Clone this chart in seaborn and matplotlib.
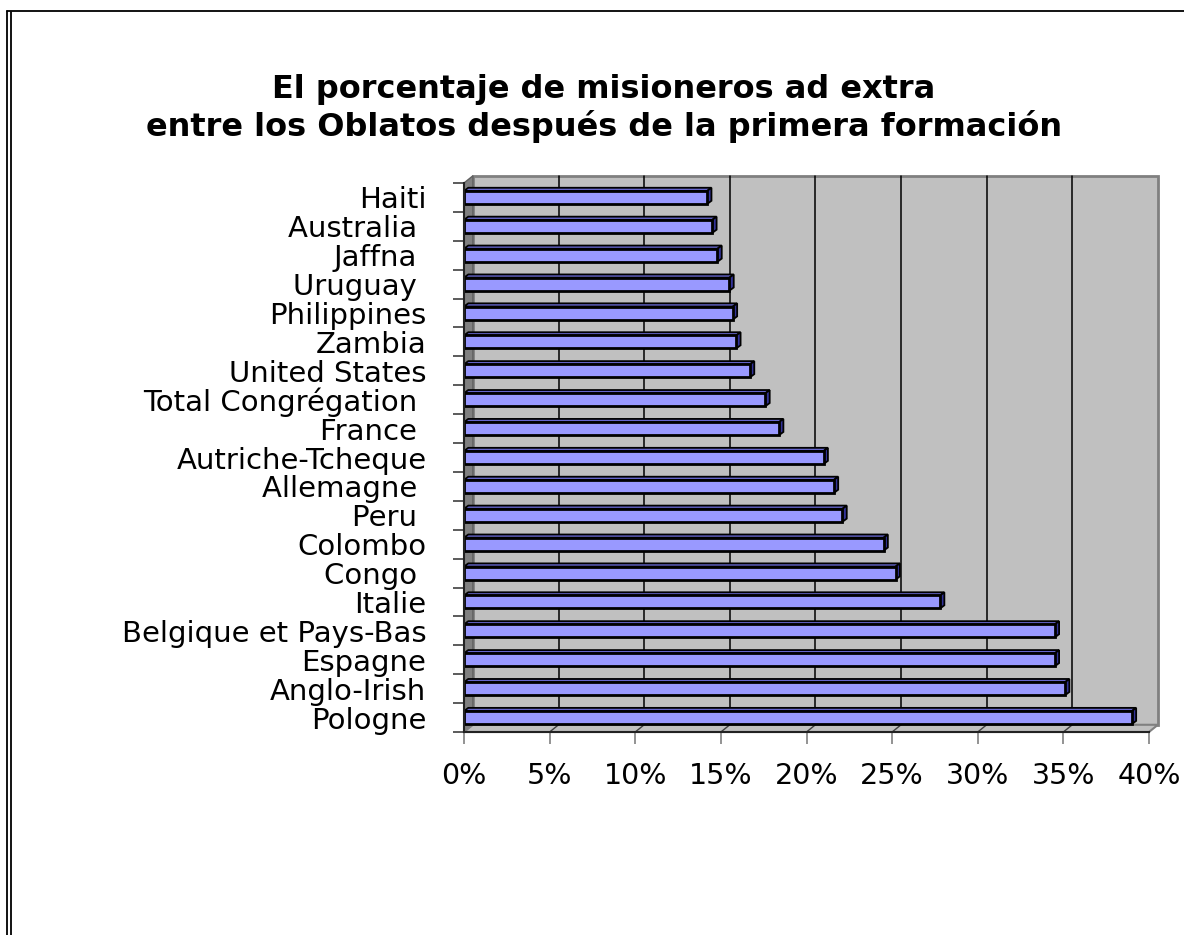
import matplotlib
matplotlib.use("Agg")
import matplotlib.pyplot as plt
import seaborn as sns
import pandas as pd
from matplotlib.patches import Polygon
from matplotlib.lines import Line2D
from matplotlib.ticker import FixedLocator

# data (percent)
countries = ["Haiti", "Australia ", "Jaffna ", "Uruguay ", "Philippines", "Zambia",
             "United States", "Total Congrégation ", "France ", "Autriche-Tcheque",
             "Allemagne ", "Peru ", "Colombo", "Congo ", "Italie",
             "Belgique et Pays-Bas", "Espagne", "Anglo-Irish", "Pologne"]
values = [14.2, 14.5, 14.8, 15.5, 15.7, 15.9,
          16.7, 17.6, 18.4, 21.0,
          21.6, 22.1, 24.5, 25.2, 27.8,
          34.5, 34.5, 35.1, 39.0]
xticks = [0, 5, 10, 15, 20, 25, 30, 35, 40]
title = "El porcentaje de misioneros ad extra\nentre los Oblatos después de la primera formación"

sns.set_theme(style="white")
plt.rcParams['font.family'] = ['DejaVu Sans']
plt.rcParams.update({"text.color": "black", "axes.labelcolor": "black",
                     "xtick.color": "black", "ytick.color": "black"})

W, H = 1184, 935
fig = plt.figure(figsize=(W / 100, H / 100), dpi=100)
ax = fig.add_axes([464 / W, 1 - 732 / H, 685 / W, 549 / H])
ax.set_facecolor('none')

df = pd.DataFrame({"pais": countries, "pct": values})
sns.barplot(data=df, x="pct", y="pais", orient="h", color="#9999ff",
            saturation=1, edgecolor="black", linewidth=2, width=0.45,
            ax=ax, zorder=3)
bars = list(ax.patches)

n = len(countries)
xmax = xticks[-1]
ax.set_xlim(0, xmax)
ax.set_ylim(n - 0.5, -0.5)

# fake 3D box: back wall, left wall, floor
DX, DY = 0.52, 0.25
top, bot = -0.5, n - 0.5
ax.add_patch(Polygon([(DX, top - DY), (xmax + DX, top - DY), (xmax + DX, bot - DY), (DX, bot - DY)],
                     closed=True, fc="#c0c0c0", ec="#808080", lw=2, zorder=0, clip_on=False))
ax.add_patch(Polygon([(0, top), (DX, top - DY), (DX, bot - DY), (0, bot)],
                     closed=True, fc="#808080", ec="#606060", lw=1, zorder=1, clip_on=False))
ax.add_patch(Polygon([(0, bot), (DX, bot - DY), (xmax + DX, bot - DY), (xmax, bot)],
                     closed=True, fc="#c0c0c0", ec="#808080", lw=1.5, zorder=1, clip_on=False))
for t in xticks[1:-1]:
    ax.plot([t + DX, t + DX], [top - DY, bot - DY], color="black", lw=1.1, zorder=0.5, clip_on=False)
    ax.plot([t, t + DX], [bot, bot - DY], color="#404040", lw=1, zorder=1.5, clip_on=False)

# 3D faces of the bars
ddx, ddy = 0.25, 0.11
for p in bars:
    x0, y0, w, h = p.get_x(), p.get_y(), p.get_width(), p.get_height()
    ax.add_patch(Polygon([(x0, y0), (x0 + ddx, y0 - ddy), (x0 + w + ddx, y0 - ddy), (x0 + w, y0)],
                         closed=True, fc="#6666cc", ec="black", lw=1.3, zorder=2.9))
    ax.add_patch(Polygon([(x0 + w, y0), (x0 + w + ddx, y0 - ddy), (x0 + w + ddx, y0 + h - ddy), (x0 + w, y0 + h)],
                         closed=True, fc="#333399", ec="black", lw=1.3, zorder=2.9))

for s in ["top", "right"]:
    ax.spines[s].set_visible(False)
for s in ["left", "bottom"]:
    ax.spines[s].set_color("#222222")
    ax.spines[s].set_linewidth(1.5)
    ax.spines[s].set_zorder(4)

ax.set_xticks(xticks)
ax.set_xticklabels([f"{t}%" for t in xticks])
ax.tick_params(axis="x", direction="out", length=8.5, width=1.2, color="#808080",
               pad=13, labelsize=20.5, labelcolor="black", bottom=True)
ax.yaxis.set_minor_locator(FixedLocator([i - 0.5 for i in range(n + 1)]))
ax.tick_params(axis="y", which="major", length=0, pad=27, labelsize=21, labelcolor="black")
ax.tick_params(axis="y", which="minor", direction="out", length=8, width=1.2,
               color="#404040", left=True)
ax.set_xlabel("")
ax.set_ylabel("")

fig.text(0.51, 0.884, title, ha="center", va="center", fontsize=23,
         fontweight="bold", linespacing=1.2, color="black")

# double frame like the original sheet
fig.add_artist(Line2D([7 / W, 1], [1 - 11 / H, 1 - 11 / H], transform=fig.transFigure, color="black", lw=1.3))
fig.add_artist(Line2D([7 / W, 7 / W], [0, 1 - 11 / H], transform=fig.transFigure, color="black", lw=1.3))
fig.add_artist(Line2D([11 / W, 11 / W], [0, 1 - 12 / H], transform=fig.transFigure, color="black", lw=1.3))

fig.savefig("out.png", dpi=100)
